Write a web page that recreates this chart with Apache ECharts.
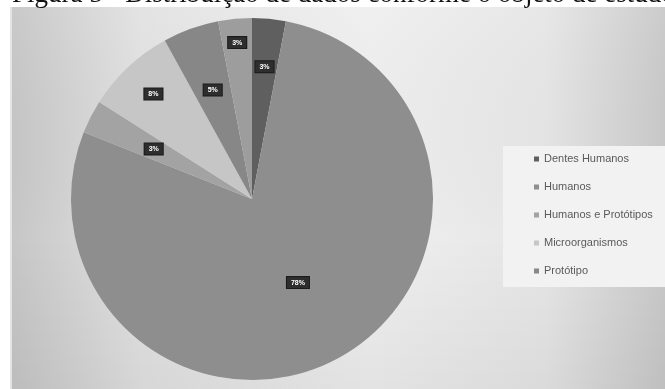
<!DOCTYPE html>
<html>
<head>
<meta charset="utf-8">
<script src="https://cdn.jsdelivr.net/npm/echarts@6/dist/echarts.min.js"></script>
<style>
  html, body { margin: 0; padding: 0; background: #ffffff; }
  #chart { width: 665px; height: 389px; }
</style>
</head>
<body>
<div id="chart"></div>
<script>
// Study subjects and their share of the collected data (%)
const categories = ['Dentes Humanos', 'Humanos', 'Humanos e Protótipos', 'Microorganismos', 'Protótipo', ''];
const shares = [3, 78, 3, 8, 5, 3];
const legendNames = ['Dentes Humanos', 'Humanos', 'Humanos e Protótipos', 'Microorganismos', 'Protótipo'];
const captionText = 'Figura 5 - Distribuição de dados conforme o objeto de estudo';

// Styling
const sliceColors = ['#5f5f5f', '#8e8e8e', '#a3a3a3', '#c6c6c6', '#878787', '#9d9d9d'];
// Radial placement of each value tag, as a fraction of the pie radius
const labelRadius = [0.71, 0.51, 0.59, 0.77, 0.62, 0.84];
const PIE_CENTER = [252, 199];
const PIE_RADIUS = 181;

const chart = echarts.init(document.getElementById('chart'), null, { renderer: 'canvas' });

const pieData = categories.map((name, i) => ({
  name: name,
  value: shares[i],
  itemStyle: { color: sliceColors[i] }
}));

const option = {
  animation: false,
  backgroundColor: '#ffffff',
  graphic: [
    {
      type: 'rect', z: -10, silent: true,
      shape: { x: 10, y: 7, width: 655, height: 382 },
      style: {
        fill: {
          type: 'linear', x: 0, y: 0, x2: 1, y2: 0,
          colorStops: [
            { offset: 0, color: '#c6c6c6' },
            { offset: 0.2, color: '#e2e2e2' },
            { offset: 0.55, color: '#efefef' },
            { offset: 0.82, color: '#e6e6e6' },
            { offset: 1, color: '#c9c9c9' }
          ]
        }
      }
    },
    {
      type: 'rect', z: -9, silent: true,
      shape: { x: 10, y: 7, width: 655, height: 382 },
      style: {
        fill: {
          type: 'linear', x: 0, y: 0, x2: 0, y2: 1,
          colorStops: [
            { offset: 0, color: 'rgba(255,255,255,0.05)' },
            { offset: 0.6, color: 'rgba(0,0,0,0)' },
            { offset: 1, color: 'rgba(0,0,0,0.05)' }
          ]
        }
      }
    },
    {
      type: 'rect', z: -8, silent: true,
      shape: { x: 10, y: 7, width: 2, height: 382 },
      style: { fill: '#e4e4e4' }
    },
    {
      type: 'rect', z: -7, silent: true,
      shape: { x: 503, y: 146, width: 162, height: 141 },
      style: { fill: '#f2f2f2' }
    },
    {
      type: 'text', z: 100, silent: true,
      x: 12, y: 8,
      style: {
        text: captionText,
        font: '27px "Liberation Serif", "Times New Roman", serif',
        fill: '#111111',
        align: 'left',
        verticalAlign: 'bottom'
      }
    }
  ],
  legend: {
    orient: 'vertical',
    left: 529,
    top: 148,
    data: legendNames,
    icon: 'rect',
    itemWidth: 5,
    itemHeight: 5,
    itemGap: 16,
    selectedMode: false,
    textStyle: {
      fontFamily: '"Liberation Sans", Arial, sans-serif',
      fontSize: 11,
      lineHeight: 12,
      color: '#5a5a5a'
    }
  },
  series: [
    {
      type: 'pie',
      center: PIE_CENTER,
      radius: [0, PIE_RADIUS],
      startAngle: 90,
      clockwise: true,
      avoidLabelOverlap: false,
      percentPrecision: 0,
      silent: true,
      data: pieData,
      label: {
        show: true,
        position: 'inside',
        formatter: '{d}%',
        fontFamily: '"Liberation Sans", Arial, sans-serif',
        fontSize: 7,
        fontWeight: 'bold',
        lineHeight: 9,
        color: '#ffffff',
        backgroundColor: '#2e2e2e',
        borderColor: '#1a1a1a',
        borderWidth: 1,
        padding: [1, 4]
      },
      labelLine: { show: false },
      labelLayout: function (params) {
        const r = params.labelRect;
        const cx = r.x + r.width / 2;
        const cy = r.y + r.height / 2;
        const k = labelRadius[params.dataIndex] / 0.5;
        return {
          x: PIE_CENTER[0] + (cx - PIE_CENTER[0]) * k,
          y: PIE_CENTER[1] + (cy - PIE_CENTER[1]) * k,
          align: 'center',
          verticalAlign: 'middle'
        };
      }
    }
  ]
};

chart.setOption(option);
</script>
</body>
</html>
